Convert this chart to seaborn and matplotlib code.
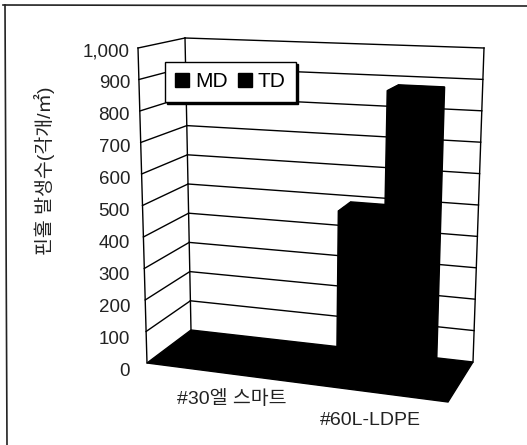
import numpy as np
import pandas as pd
import matplotlib
matplotlib.use('Agg')
import matplotlib.pyplot as plt
import seaborn as sns
from matplotlib.lines import Line2D
from matplotlib.patches import Polygon
from matplotlib.transforms import Transform

categorias = ['#30엘 스마트', '#60L-LDPE']
series = ['MD', 'TD']
valores_md = [4, 510]
valores_td = [4, 890]
ticks_y = [0, 100, 200, 300, 400, 500, 600, 700, 800, 900, 1000]
etiquetas_y = ['0', '100', '200', '300', '400', '500', '600', '700', '800', '900', '1,000']
titulo_y = '핀홀 발생수(각개/㎡)'

ANCHO, ALTO = 527, 445
X0, X1 = -0.5, 1.5
V_MAX = 1000

# esquinas de la caja en pixeles (x, valor, profundidad)
ESQUINAS = {
    (0, 0, 0): (147, 363), (0, 1, 0): (138, 48),
    (1, 0, 0): (448, 402), (1, 1, 0): (459, 62),
    (0, 0, 1): (191, 330), (0, 1, 1): (185, 38),
    (1, 0, 1): (473, 362), (1, 1, 1): (484, 48),
}


def proyectar(x, v, d):
    u = (np.asarray(x, dtype=float) - X0) / (X1 - X0)
    w = np.asarray(v, dtype=float) / V_MAX
    d = np.asarray(d, dtype=float) * np.ones_like(u)
    px, py = 0.0, 0.0
    for (a, b, c), (cx, cy) in ESQUINAS.items():
        peso = (u if a else 1 - u) * (w if b else 1 - w) * (d if c else 1 - d)
        px = px + peso * cx
        py = py + peso * cy
    return np.column_stack([px, ALTO - py])


class Caja(Transform):
    """Lleva un plano de la caja 3D a pixeles de la figura."""
    input_dims = 2
    output_dims = 2
    is_affine = False
    has_inverse = False

    def __init__(self, plano):
        super().__init__()
        self.plano = plano

    def transform_non_affine(self, values):
        values = np.asarray(values, dtype=float)
        return proyectar(*self.plano(values[:, 0], values[:, 1]))


def plano_frontal(d):
    return Caja(lambda x, v: (x, v, d))


pared_fondo = plano_frontal(1.0)
pared_lateral = Caja(lambda d, v: (np.full_like(d, X0), v, d))
pared_derecha = Caja(lambda d, v: (np.full_like(d, X1), v, d))
piso = Caja(lambda x, d: (x, np.zeros_like(x), d))

plt.rcParams['font.family'] = ['Liberation Sans', 'Noto Sans CJK KR']

df = pd.DataFrame({
    'categoria': categorias * 2,
    'serie': [series[0]] * 2 + [series[1]] * 2,
    'valor': valores_md + valores_td,
})

fig = plt.figure(figsize=(ANCHO / 100, ALTO / 100), dpi=100)
fig.patch.set_facecolor('white')
ax = fig.add_axes([0, 0, 1, 1])

# marco exterior: solo arriba e izquierda
fig.add_artist(Line2D([3 / ANCHO, 1], [1 - 5 / ALTO, 1 - 6 / ALTO], color='#222222', lw=1.2))
fig.add_artist(Line2D([5 / ANCHO, 7 / ANCHO], [1 - 5 / ALTO, 0], color='#222222', lw=1.2))

# paredes
for v in ticks_y[1:]:
    ax.plot([X0, X1], [v, v], color='black', lw=1.0, transform=pared_fondo, clip_on=False, zorder=1)
    ax.plot([0, 1], [v, v], color='black', lw=1.0, transform=pared_lateral, clip_on=False, zorder=1)
ax.plot([0, 0], [0, V_MAX], color='black', lw=1.0, transform=pared_lateral, clip_on=False, zorder=1)
ax.plot([1, 1], [0, V_MAX], color='black', lw=1.0, transform=pared_lateral, clip_on=False, zorder=1)
ax.plot([1, 1], [0, V_MAX], color='black', lw=1.0, transform=pared_derecha, clip_on=False, zorder=1)

# piso negro
ax.add_patch(Polygon([(X0, 0), (X1, 0), (X1, 1), (X0, 1)], closed=True, facecolor='black',
                     edgecolor='black', transform=piso, clip_on=False, zorder=2))

# barras: se repite el barplot en varias profundidades para dar volumen
for i, d in enumerate(np.linspace(0.3, 0.66, 12)):
    antes = len(ax.patches)
    sns.barplot(data=df, x='categoria', y='valor', hue='serie', palette=['black', 'black'],
                width=0.61, gap=0, saturation=1, legend=i == 0, ax=ax, zorder=3)
    for barra in ax.patches[antes:]:
        barra.set_transform(plano_frontal(d))
        barra.set_clip_on(False)
        barra.set_edgecolor('black')

ax.set_xlim(X0, X1)
ax.set_ylim(0, V_MAX)
ax.axis('off')

# etiquetas del eje y: alineadas a la derecha en x=130
for v, txt in zip(ticks_y, etiquetas_y):
    borde = proyectar([X0], [v], 0.0)[0, 0]
    dy_px = 8 - 4 * v / V_MAX
    ax.annotate(txt, xy=(0, v), xycoords=pared_lateral, xytext=((130 - borde) * 0.72, -dy_px * 0.72),
                textcoords='offset points', ha='right', va='center', fontsize=13.5, color='#222222',
                annotation_clip=False)

# etiquetas de categoria
posiciones_cat = [(7, -19), (-2, -20)]
for i, txt in enumerate(categorias):
    ax.annotate(txt, xy=(i, 0), xycoords=plano_frontal(0.0), xytext=posiciones_cat[i], textcoords='offset points',
                ha='center', va='center', fontsize=14, color='#222222', annotation_clip=False)

fig.text(45 / ANCHO, 1 - 171 / ALTO, titulo_y, rotation=90, ha='center', va='center',
         fontsize=14, color='#222222')

# leyenda
handles, labels = ax.get_legend_handles_labels()
ax.get_legend().remove()
ax.legend(handles[:2], labels[:2], ncol=2, loc='upper left', bbox_to_anchor=(165 / ANCHO, 1 - 62 / ALTO),
          bbox_transform=fig.transFigure, fontsize=15, frameon=True, fancybox=False, framealpha=1,
          edgecolor='black', handlelength=0.67, handleheight=0.67, handletextpad=0.3, columnspacing=0.45,
          borderpad=0.5, borderaxespad=0, shadow={'color': 'black', 'alpha': 1, 'ox': 1.5, 'oy': -1.5})

fig.savefig('out.png', dpi=100)
